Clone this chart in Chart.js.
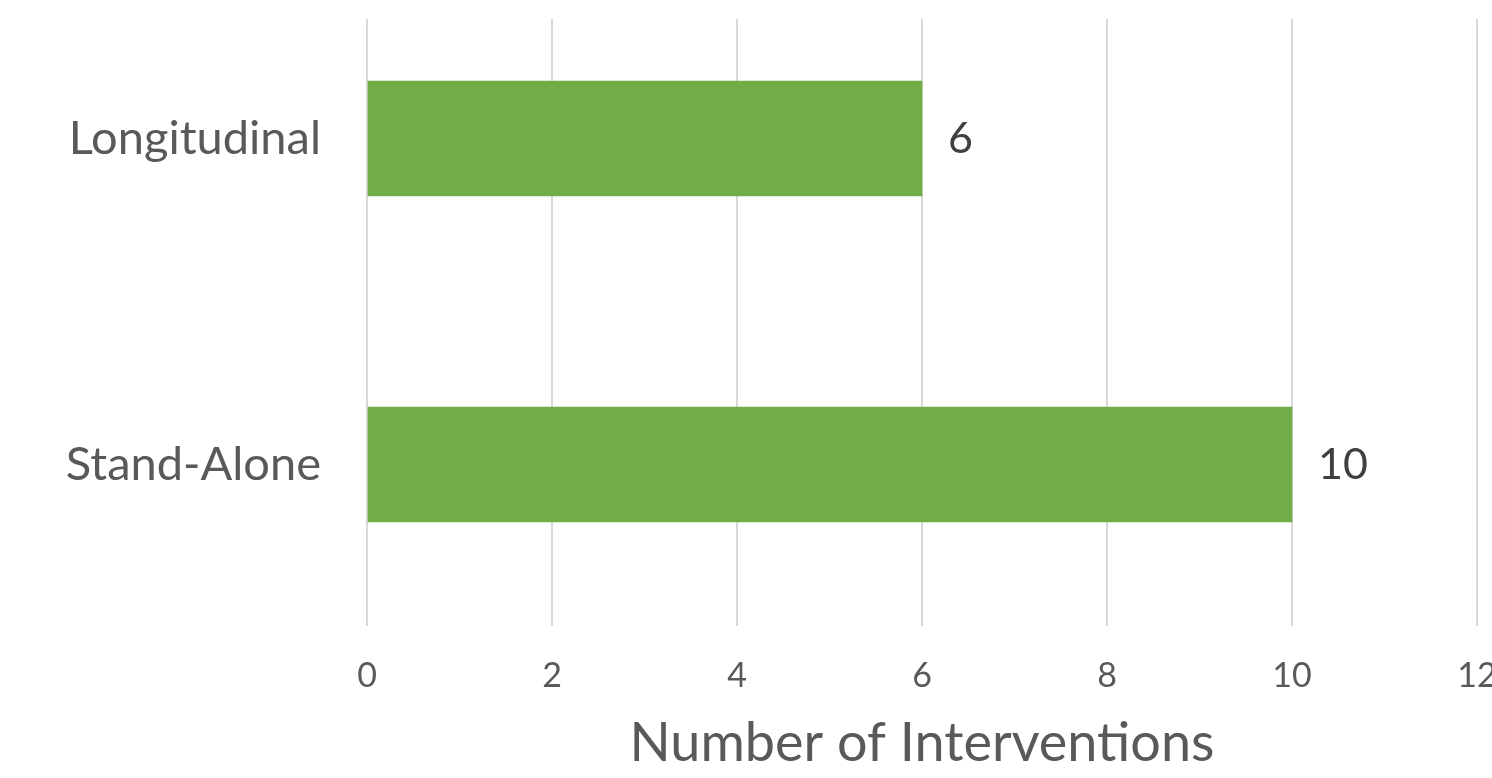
<!DOCTYPE html>
<html>
<head>
<meta charset="utf-8">
<title>Number of Interventions</title>
<script src="https://cdn.jsdelivr.net/npm/chart.js@4.4.1/dist/chart.umd.min.js"></script>
<style>
  html, body { margin: 0; padding: 0; background: #fff; overflow: hidden; }
  #wrap { width: 1492px; height: 778px; overflow: hidden; }
</style>
</head>
<body>
<div id="wrap">
  <canvas id="grafico" width="1492" height="778"></canvas>
</div>
<script>
// data
const categories = ['Longitudinal', 'Stand-Alone'];
const interventions = [6, 10];
const xTicks = [0, 2, 4, 6, 8, 10, 12];
const axisTitle = 'Number of Interventions';

const FONT = 'Lato, "Open Sans", sans-serif';

// little plugin that writes the value right of each bar
const valueLabels = {
  id: 'valueLabels',
  afterDatasetsDraw(chart) {
    const ctx = chart.ctx;
    const meta = chart.getDatasetMeta(0);
    ctx.save();
    ctx.font = '43px ' + FONT;
    ctx.fillStyle = '#404040';
    ctx.textAlign = 'left';
    ctx.textBaseline = 'middle';
    meta.data.forEach(function (bar, i) {
      ctx.fillText(String(interventions[i]), bar.x + 26, bar.y + 1);
    });
    ctx.restore();
  }
};

const ctx = document.getElementById('grafico').getContext('2d');

new Chart(ctx, {
  type: 'bar',
  data: {
    datasets: [{
      label: axisTitle,
      data: interventions.map((v, i) => ({ x: v, y: i })),
      backgroundColor: '#70AD47',
      borderWidth: 0,
      barThickness: 115
    }]
  },
  options: {
    indexAxis: 'y',
    responsive: false,
    animation: false,
    layout: { padding: { top: 19, right: 15, left: 0, bottom: 0 } },
    plugins: {
      legend: { display: false },
      tooltip: { enabled: false }
    },
    scales: {
      x: {
        type: 'linear',
        min: xTicks[0],
        max: xTicks[xTicks.length - 1],
        afterBuildTicks: axis => { axis.ticks = xTicks.map(v => ({ value: v })); },
        afterFit: axis => {
          axis.height = 152;
          axis.paddingLeft = 0;
          axis.paddingRight = 0;
        },
        grid: { color: '#D9D9D9', lineWidth: 2, drawTicks: false },
        border: { display: false },
        ticks: {
          padding: 30,
          color: '#595959',
          font: { family: FONT, size: 34 }
        },
        title: {
          display: true,
          text: axisTitle,
          color: '#595959',
          font: { family: FONT, size: 54 },
          padding: { top: 0, bottom: 2 }
        }
      },
      y: {
        type: 'linear',
        reverse: true,
        offset: false,
        min: -0.3666,
        max: 1.4954,
        afterBuildTicks: axis => { axis.ticks = categories.map((c, i) => ({ value: i })); },
        afterFit: axis => {
          axis.width = 367;
          axis.paddingTop = 0;
          axis.paddingBottom = 0;
        },
        grid: { display: false, offset: false },
        border: { display: false },
        ticks: {
          padding: 38,
          color: '#595959',
          font: { family: FONT, size: 47 },
          callback: v => categories[v]
        }
      }
    }
  },
  plugins: [valueLabels]
});
</script>
</body>
</html>
